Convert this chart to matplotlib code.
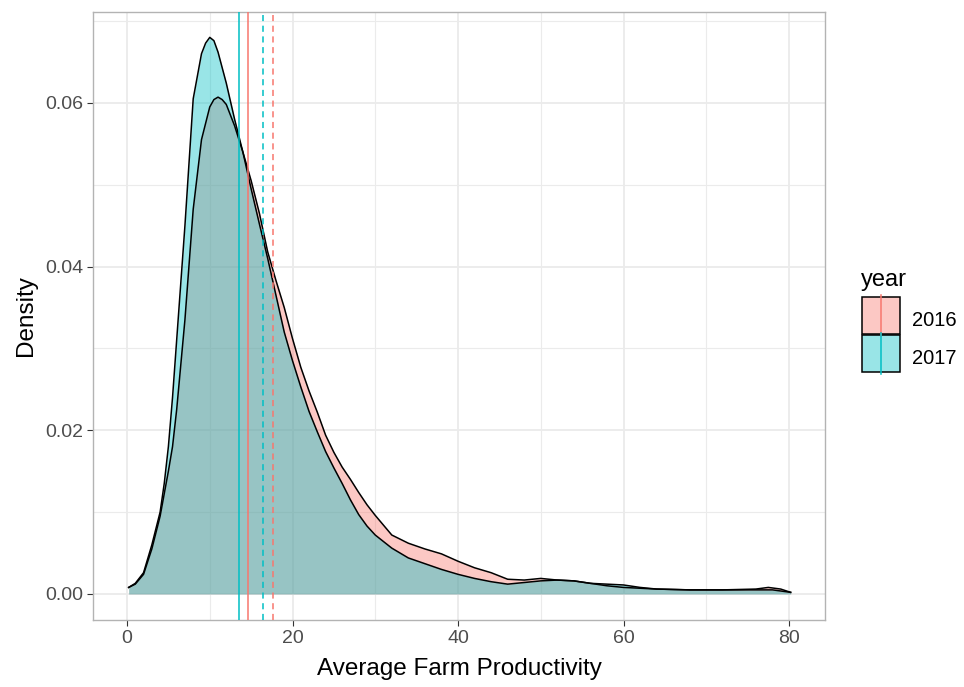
import numpy as np
import matplotlib
matplotlib.use("Agg")
import matplotlib.pyplot as plt
from matplotlib.patches import Rectangle
from matplotlib.lines import Line2D

plt.rcParams['font.family'] = ['Liberation Sans', 'DejaVu Sans']

# density curves
x_2016 = [0.2, 1, 2, 3, 4, 5, 5.5, 6, 7, 8, 9, 10, 10.5, 11, 11.5, 12, 13, 14, 15, 16,
          17, 18, 19, 20, 21, 22, 23, 24, 25, 26, 27, 28, 29, 30, 32, 34, 36, 38, 40,
          42, 44, 46, 48, 50, 52, 54, 56, 58, 60, 62, 64, 68, 72, 76, 77.5, 79, 80.2]
d_2016 = [0.0008, 0.0012, 0.0024, 0.0055, 0.0095, 0.0150, 0.0180, 0.0225, 0.0335,
          0.047, 0.0555, 0.0595, 0.0604, 0.0607, 0.0604, 0.0598, 0.0572, 0.0540, 0.0505,
          0.0465, 0.0418, 0.0383, 0.0350, 0.0312, 0.0277, 0.0248, 0.0222, 0.0194, 0.0173,
          0.0155, 0.0140, 0.0124, 0.0109, 0.0096, 0.0072, 0.0062, 0.0055, 0.0049, 0.0040,
          0.0032, 0.0026, 0.0018, 0.0017, 0.0019, 0.0017, 0.0016, 0.0013, 0.0010,
          0.0008, 0.0007, 0.0006, 0.0005, 0.0005, 0.0006, 0.0008, 0.0006, 0.0002]

x_2017 = [0.2, 1, 2, 3, 4, 4.5, 5, 5.5, 6, 7, 8, 9, 9.5, 10, 10.5, 11, 12, 13, 14, 15,
          16, 17, 18, 19, 20, 21, 22, 23, 24, 25, 26, 27, 28, 29, 30, 32, 34, 36, 38,
          40, 42, 44, 46, 48, 50, 52, 54, 56, 58, 60, 62, 64, 68, 72, 76, 78, 80.2]
d_2017 = [0.0008, 0.0013, 0.0026, 0.0060, 0.0100, 0.0135, 0.0180, 0.0240, 0.031,
          0.045, 0.0605, 0.0660, 0.0673, 0.0680, 0.0676, 0.0662, 0.0624, 0.058, 0.054,
          0.0495, 0.0452, 0.041, 0.0365, 0.032, 0.0285, 0.0253, 0.0223, 0.0198, 0.0174,
          0.0154, 0.0135, 0.0115, 0.0097, 0.0083, 0.0072, 0.0056, 0.0044, 0.0037,
          0.0030, 0.0024, 0.0019, 0.0015, 0.0012, 0.0014, 0.0016, 0.0017, 0.0016,
          0.0013, 0.0012, 0.0011, 0.0008, 0.0006, 0.0005, 0.0005, 0.0005, 0.0005, 0.0002]

years = ['2016', '2017']
colors = ['#F8766D', '#00BFC4']
means = [17.68, 16.48]
medians = [14.58, 13.57]

fig = plt.figure(figsize=(9.64, 6.87), dpi=100)
ax = fig.add_axes([93/964, 1 - 620/687, (825 - 93)/964, (620 - 12)/687])

for xs, ds, c in [(x_2016, d_2016, colors[0]), (x_2017, d_2017, colors[1])]:
    ax.fill_between(xs, 0, ds, color=c, alpha=0.4, linewidth=0, zorder=2)
    ax.plot(xs, ds, color='black', linewidth=1.1, zorder=3)

for m, md, c in zip(means, medians, colors):
    ax.axvline(md, color=c, linewidth=1.1, zorder=4)
    ax.axvline(m, color=c, linewidth=1.1, linestyle=(0, (4, 3)), zorder=4)

ax.set_xlim(-4.11, 84.35)
ax.set_ylim(-0.00318, 0.0711)
ax.set_xticks([0, 20, 40, 60, 80])
ax.set_yticks([0, 0.02, 0.04, 0.06])
ax.set_yticklabels(['0.00', '0.02', '0.04', '0.06'])
ax.set_xticks([10, 30, 50, 70], minor=True)
ax.set_yticks([0.01, 0.03, 0.05, 0.07], minor=True)
ax.grid(which='major', color='#EBEBEB', linewidth=1.3, zorder=0)
ax.grid(which='minor', color='#EBEBEB', linewidth=0.8, zorder=0)
ax.set_axisbelow(True)
for s in ax.spines.values():
    s.set_color('#B3B3B3')
    s.set_linewidth(1.0)
ax.tick_params(which='major', length=4, color='#333333', labelsize=14,
               labelcolor='#4D4D4D', pad=3)
ax.tick_params(which='minor', length=0)
ax.set_xlabel('Average Farm Productivity', fontsize=17.5, labelpad=8)
ax.set_ylabel('Density', fontsize=17.5, labelpad=6)

# legend drawn by hand, in pixel coordinates
W, H = 964, 687
def fx(px):
    return px / W
def fy(py):
    return 1 - py / H

fig.text(fx(861), fy(286), 'year', fontsize=17, va='baseline', ha='left')
box_tops = [297, 335]
for top, c, lab in zip(box_tops, colors, years):
    fig.patches.append(Rectangle((fx(862), fy(top + 37)), 38 / W, 37 / H,
                                 facecolor=c, alpha=0.4, edgecolor='none',
                                 transform=fig.transFigure))
    fig.patches.append(Rectangle((fx(862), fy(top + 37)), 38 / W, 37 / H,
                                 facecolor='none', edgecolor='black', linewidth=1.1,
                                 transform=fig.transFigure))
    fig.lines.append(Line2D([fx(881), fx(881)], [fy(top - 2), fy(top + 39)],
                            color=c, linewidth=1.1, transform=fig.transFigure))
    fig.text(fx(912), fy(top + 23), lab, fontsize=14.5, va='center', ha='left')

fig.savefig('out.png', dpi=100)
